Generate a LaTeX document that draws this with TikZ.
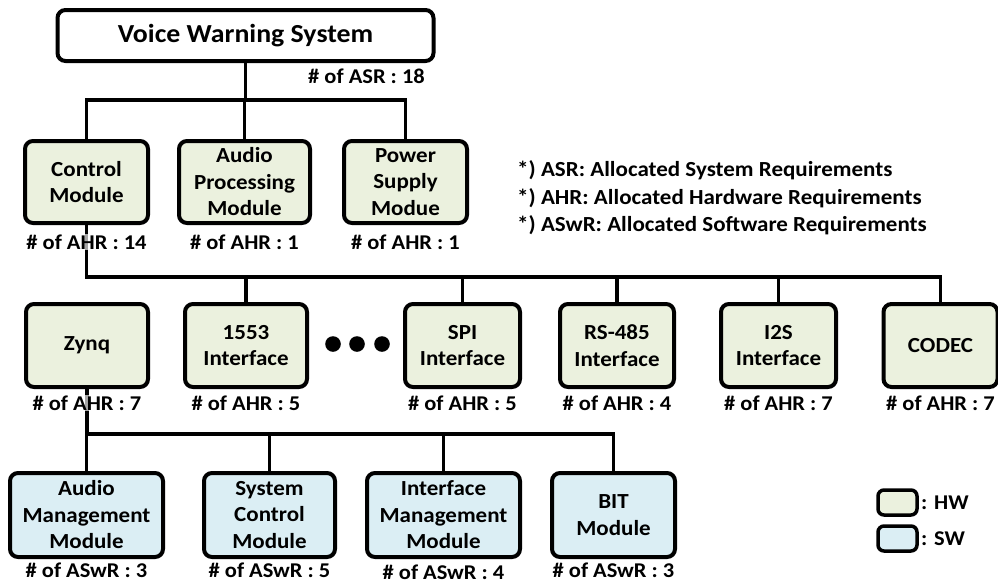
\documentclass[tikz,border=0pt]{standalone}
\usepackage{fontspec}
\setmainfont{Carlito}[FakeStretch=1.07]
\definecolor{hwfill}{HTML}{EBF1DE}
\definecolor{swfill}{HTML}{DBEEF4}
\begin{document}
\begin{tikzpicture}[x=1pt,y=-1pt,
  blk/.style={draw=black, line width=4pt, rounded corners=8pt, align=center,
    inner sep=0pt, font=\bfseries\fontsize{21.5}{26.5}\selectfont},
  hwblk/.style={blk, fill=hwfill, minimum height=83pt},
  swblk/.style={blk, fill=swfill, minimum height=84pt},
  cnt/.style={font=\bfseries\fontsize{21}{24}\selectfont, inner sep=1pt,
    fill=white, fill opacity=0.65, text opacity=1},
  note/.style={font=\bfseries\fontsize{21.5}{24}\selectfont, anchor=base west, inner sep=0pt},
  key/.style={font=\bfseries\fontsize{21}{24}\selectfont, anchor=west, inner sep=0pt},
  keybox/.style={draw=black, line width=3.5pt, rounded corners=6pt,
    minimum width=39pt, minimum height=25pt, inner sep=0pt},
  wire/.style={line width=3.5pt, line join=miter},
  dot/.style={circle, fill=black, inner sep=0pt, minimum size=15.6pt}]
\useasboundingbox (0,0) rectangle (998,584);

% top level
\node[blk, fill=white, minimum width=376pt, minimum height=51pt,
  font=\bfseries\fontsize{26}{30}\selectfont] (vws) at (245.5,35.5) {Voice Warning System};

% second level
\node[hwblk, minimum width=123pt, minimum height=82pt] (ctrl)  at (86.5,182) {Control\\Module};
\node[hwblk, minimum width=131pt, minimum height=82pt] (audio) at (244.5,182) {Audio\\Processing\\Module};
\node[hwblk, minimum width=123pt, minimum height=82pt] (power) at (405.5,182) {Power\\Supply\\Modue};

% third level
\node[hwblk, minimum width=122pt] (zynq)  at (87,345.5)  {Zynq};
\node[hwblk, minimum width=122pt] (mil)   at (246,345.5) {1553\\Interface};
\node[hwblk, minimum width=115pt] (spi)   at (462.5,345.5) {SPI\\Interface};
\node[hwblk, minimum width=114pt] (rs)    at (617,345.5) {RS-485\\Interface};
\node[hwblk, minimum width=115pt] (i2s)   at (778.5,345.5) {I2S\\Interface};
\node[hwblk, minimum width=114pt] (codec) at (940.5,345.5) {CODEC};

\node[dot] (d1) at (333,344) {};
\node[dot] (d2) at (357,344) {};
\node[dot] (d3) at (382,344) {};

% software level
\node[swblk, minimum width=153pt] (amm) at (86.5,515)  {Audio\\Management\\Module};
\node[swblk, minimum width=131pt] (scm) at (269.5,515) {System\\Control\\Module};
\node[swblk, minimum width=153pt] (imm) at (443.5,515) {Interface\\Management\\Module};
\node[swblk, minimum width=123pt] (bit) at (613.5,515) {BIT\\Module};

% bus rails
\coordinate (busA) at (0,100);
\coordinate (busB) at (0,277);
\coordinate (busC) at (0,434);

\draw[wire] (vws.south) -- (vws.south |- busA);
\draw[wire] (ctrl.north) -- (ctrl.north |- busA) -- (power.north |- busA) -- (power.north);
\draw[wire] (audio.north) -- (audio.north |- busA);

\draw[wire] (ctrl.south) -- (ctrl.south |- busB) -- (codec.north |- busB) -- (codec.north);
\foreach \n in {mil,spi,rs,i2s}
  \draw[wire] (\n.north) -- (\n.north |- busB);

\draw[wire] (zynq.south) -- (zynq.south |- busC) -- (bit.north |- busC) -- (bit.north);
\foreach \n in {amm,scm,imm}
  \draw[wire] (\n.north) -- (\n.north |- busC);

% requirement counts
\node[cnt] (cvws)   at (366.5,76) {\# of ASR : 18};
\node[cnt] (cctrl)  at (86.5,242) {\# of AHR : 14};
\node[cnt] (caudio) at (244.5,242) {\# of AHR : 1};
\node[cnt] (cpower) at (405.5,242) {\# of AHR : 1};
\node[cnt] (czynq)  at (87,403)   {\# of AHR : 7};
\node[cnt] (cmil)   at (246,403)  {\# of AHR : 5};
\node[cnt] (cspi)   at (462.5,403) {\# of AHR : 5};
\node[cnt] (crs)    at (617,403)  {\# of AHR : 4};
\node[cnt] (ci2s)   at (778.5,403) {\# of AHR : 7};
\node[cnt] (ccodec) at (940.5,403) {\# of AHR : 7};
\node[cnt] (camm)   at (86.5,570) {\# of ASwR : 3};
\node[cnt] (cscm)   at (269.5,570) {\# of ASwR : 5};
\node[cnt] (cimm)   at (443.5,572) {\# of ASwR : 4};
\node[cnt] (cbit)   at (613.5,570) {\# of ASwR : 3};

% abbreviations
\node[note] (n1) at (517,176) {*) ASR: Allocated System Requirements};
\node[note] (n2) at (517,204) {*) AHR: Allocated Hardware Requirements};
\node[note] (n3) at (517,231) {*) ASwR: Allocated Software Requirements};

% legend
\node[keybox, fill=hwfill] (lhw) at (897.5,502.5) {};
\node[keybox, fill=swfill] (lsw) at (897.5,538.5) {};
\node[key] (thw) at (921,502.5) {: HW};
\node[key] (tsw) at (921,538.5) {: SW};
\end{tikzpicture}
\end{document}
